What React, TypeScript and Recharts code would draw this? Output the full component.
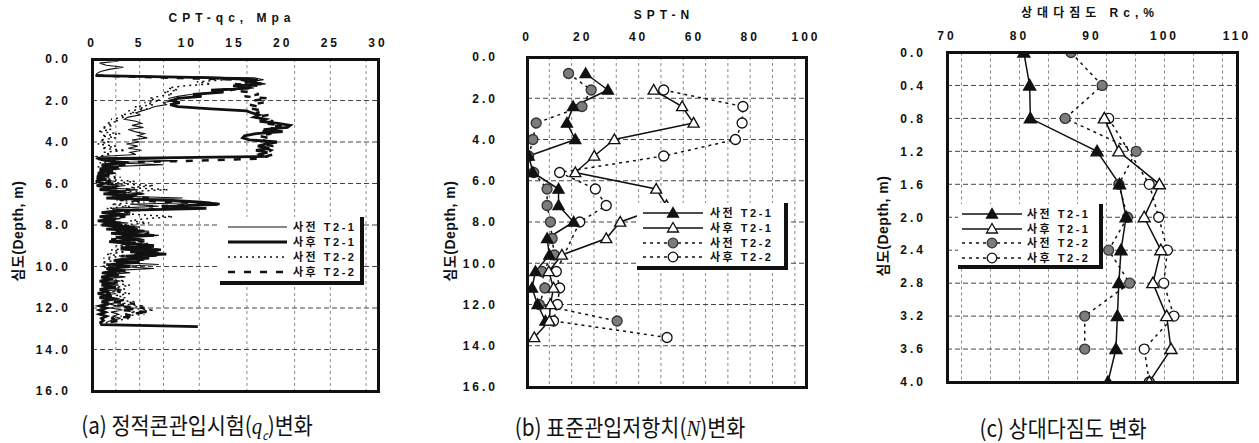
import type { ReactNode } from "react";
import { LineChart, Line, XAxis, YAxis, CartesianGrid } from "recharts";

const FONT = '"Liberation Sans", Arial, "Noto Sans CJK KR", sans-serif';
const KFONT = '"Noto Sans CJK KR", "Liberation Sans", sans-serif';
const INK = "#111";
const GRAY_DOT = "#7c7c7c";

// ---------- (a) CPT cone resistance, logged every 0.1 m ----------
const cptDepth = [
  0.0, 0.1, 0.2, 0.3, 0.4, 0.5, 0.6, 0.7, 0.8, 0.9,
  1.0, 1.1, 1.2, 1.3, 1.4, 1.5, 1.6, 1.7, 1.8, 1.9,
  2.0, 2.1, 2.2, 2.3, 2.4, 2.5, 2.6, 2.7, 2.8, 2.9,
  3.0, 3.1, 3.2, 3.3, 3.4, 3.5, 3.6, 3.7, 3.8, 3.9,
  4.0, 4.1, 4.2, 4.3, 4.4, 4.5, 4.6, 4.7, 4.8, 4.9,
  5.0, 5.1, 5.2, 5.3, 5.4, 5.5, 5.6, 5.7, 5.8, 5.9,
  6.0, 6.1, 6.2, 6.3, 6.4, 6.5, 6.6, 6.7, 6.8, 6.9,
  7.0, 7.1, 7.2, 7.3, 7.4, 7.5, 7.6, 7.7, 7.8, 7.9,
  8.0, 8.1, 8.2, 8.3, 8.4, 8.5, 8.6, 8.7, 8.8, 8.9,
  9.0, 9.1, 9.2, 9.3, 9.4, 9.5, 9.6, 9.7, 9.8, 9.9,
  10.0, 10.1, 10.2, 10.3, 10.4, 10.5, 10.6, 10.7, 10.8, 10.9,
  11.0, 11.1, 11.2, 11.3, 11.4, 11.5, 11.6, 11.7, 11.8, 11.9,
  12.0, 12.1, 12.2, 12.3, 12.4, 12.5, 12.6, 12.7, 12.8, 12.9,
];

const cptPreT21 = [
  0.4, 2.8, 0.8, 1.5, 3.3, 1.8, 0.9, 0.5, 0.4, 17.0,
  18.0, 16.5, 18.2, 15.5, 17.0, 14.0, 12.8, 10.5, 9.0, 8.0,
  8.8, 7.5, 7.8, 6.5, 6.0, 5.2, 4.6, 5.0, 3.8, 3.4,
  4.6, 5.2, 4.2, 5.4, 3.8, 4.5, 5.5, 4.8, 5.8, 4.2,
  5.0, 3.6, 4.8, 3.8, 5.2, 4.0, 4.6, 1.0, 0.4, 9.0,
  2.0, 7.5, 1.0, 3.0, 0.8, 2.5, 0.5, 1.8, 0.8, 2.5,
  1.0, 3.5, 1.5, 4.8, 2.0, 5.5, 2.5, 9.5, 5.0, 12.5,
  4.0, 7.0, 2.0, 3.5, 1.2, 4.0, 1.5, 3.0, 1.0, 3.8,
  2.0, 5.0, 2.5, 6.0, 3.0, 7.0, 3.5, 5.5, 2.5, 5.0,
  3.5, 6.5, 3.0, 7.0, 4.5, 6.8, 3.0, 5.5, 2.5, 7.0,
  3.0, 6.5, 2.0, 4.0, 1.5, 3.5, 1.2, 3.0, 1.0, 2.8,
  1.2, 3.0, 1.0, 2.5, 1.2, 2.2, 1.5, 3.0, 1.8, 2.6,
  2.0, 3.2, 2.0, 2.8, 2.2, 3.0, 2.0, 1.5, 1.6, 11.0,
];

const cptPostT21 = [
  null, null, null, null, null, null, null, null, 0.4, 12.0,
  17.4, 16.2, 17.8, 14.8, 16.5, 12.5, 13.8, 10.6, 11.5, 9.0,
  8.4, 9.2, 8.2, 9.0, 12.5, 16.2, 16.8, 17.5, 17.0, 18.2,
  17.6, 19.5, 20.8, 20.5, 18.0, 20.0, 17.2, 16.0, 15.8, 16.5,
  19.4, 18.2, 17.4, 18.6, 17.2, 18.4, 17.6, 18.0, 0.6, 1.5,
  3.5, 1.0, 2.8, 0.8, 2.2, 0.6, 1.8, 0.5, 1.5, 0.4,
  1.2, 0.5, 2.0, 0.8, 3.5, 1.2, 4.5, 1.5, 8.0, 11.5,
  13.2, 8.0, 12.0, 3.0, 1.0, 3.5, 0.8, 2.5, 0.6, 3.0,
  1.0, 4.5, 1.5, 5.5, 2.0, 6.5, 2.5, 5.0, 1.8, 4.0,
  6.5, 3.0, 7.0, 4.0, 7.8, 3.5, 6.0, 2.5, 5.0, 2.0,
  4.0, 1.5, 3.5, 1.2, 2.8, 1.0, 2.2, 0.8, 2.0, 1.0,
  2.5, 0.8, 1.8, 0.6, 1.5, 0.8, 2.0, 1.0, 1.8, 0.8,
  1.5, 0.8, 1.4, 0.8, 1.5, 1.0, 1.2, 0.9, 1.0, 11.1,
];

const cptPreT22 = [
  null, null, null, null, null, null, null, null, 0.5, 12.0,
  14.0, 11.0, 12.5, 9.5, 8.0, 9.0, 7.5, 8.5, 7.0, 6.0,
  7.2, 5.5, 6.5, 4.5, 5.8, 3.8, 4.5, 3.0, 3.5, 2.0,
  2.8, 1.5, 2.2, 1.0, 2.0, 0.6, 3.0, 1.0, 2.5, 0.8,
  1.8, 0.6, 2.5, 1.0, 3.5, 1.2, 2.0, 0.5, 1.0, 2.5,
  0.8, 2.0, 0.6, 1.8, 0.8, 2.5, 1.0, 3.0, 1.5, 4.5,
  2.0, 6.5, 4.0, 8.0, 3.0, 5.0, 2.0, 4.0, 2.5, 5.5,
  2.0, 4.0, 1.5, 3.0, 1.2, 5.0, 8.5, 5.5, 4.0, 6.0,
  3.0, 5.0, 2.5, 4.5, 2.0, 4.0, 2.5, 5.5, 3.0, 6.0,
  2.5, 4.5, 2.0, 3.5, 1.5, 3.0, 1.2, 2.5, 1.0, 2.2,
  1.0, 2.5, 1.5, 3.0, 1.5, 2.8, 1.2, 3.5, 2.0, 4.0,
  2.5, 3.5, 2.0, 4.0, 2.5, 3.5, 2.0, 4.5, 3.0, 5.5,
  3.5, 6.5, 4.0, 5.5, 3.0, 4.0, 2.5, 2.0, null, null,
];

const cptPostT22 = [
  null, null, null, null, null, null, null, null, 0.5, 8.0,
  15.5, 17.0, 15.0, 17.5, 16.0, 14.5, 16.5, 17.5, 16.0, 18.5,
  17.0, 18.0, 16.5, 17.5, 16.8, 18.0, 17.2, 18.5, 17.0, 18.2,
  19.0, 18.0, 20.0, 18.5, 19.5, 17.8, 18.8, 17.5, 18.5, 17.8,
  18.6, 18.0, 19.0, 18.2, 18.8, 18.4, 19.0, 18.2, 17.5, 11.0,
  2.0, 3.5, 1.0, 2.5, 0.8, 2.0, 0.6, 1.5, 0.5, 2.0,
  1.0, 3.0, 1.5, 4.0, 2.0, 5.5, 2.5, 6.0, 3.0, 9.0,
  13.7, 6.0, 9.5, 2.5, 4.0, 1.5, 3.5, 1.0, 2.5, 1.2,
  3.5, 1.8, 5.0, 2.5, 6.0, 3.0, 4.5, 2.0, 5.5, 3.0,
  6.0, 3.5, 7.5, 4.0, 6.5, 3.0, 5.5, 2.0, 4.5, 1.5,
  3.5, 1.2, 3.0, 1.0, 2.5, 0.8, 2.0, 1.0, 2.5, 1.2,
  2.0, 1.0, 3.0, 1.5, 2.5, 1.2, 3.5, 2.0, 4.5, 2.5,
  5.5, 3.0, 6.0, 3.5, 4.5, 2.0, 3.0, 1.5, null, null,
];

const qcTicks = [0, 5, 10, 15, 20, 25, 30];
const qcFine = [1.25, 2.5, 3.75, 5, 6.25, 7.5, 8.75, 10, 11.25, 12.5, 13.75, 15, 16.25, 17.5, 18.75, 20, 21.25, 22.5, 23.75, 25, 26.25, 27.5, 28.75];
const depthTicks = [0, 2, 4, 6, 8, 10, 12, 14, 16];

// ---------- (b) SPT N values ----------
const sptPreT21Depth = [0.8, 1.6, 2.4, 3.2, 4.0, 4.8, 5.6, 6.4, 7.2, 8.0, 8.8, 9.6, 10.4, 11.2, 12.0, 12.8];
const sptPreT21 = [21, 29, 16.5, 14.3, 17.3, 0.6, 2.1, 11.3, 11.3, 16.7, 7.2, 8.0, 3.0, 1.8, 3.8, 6.6];
const sptPostT21Depth = [1.6, 2.4, 3.2, 4.0, 4.8, 5.6, 6.4, 7.2, 8.0, 8.8, 9.6, 10.4, 11.2, 12.0, 12.8, 13.6];
const sptPostT21 = [45.4, 55.6, 59.7, 31.3, 24.1, 17.3, 46.3, 50, 33.4, 28.4, 12.5, 7.8, 9.5, 8.4, 8.0, 2.6];
const sptPreT22Depth = [0.8, 1.6, 2.4, 3.2, 4.0, 4.8, 5.6, 6.4, 7.2, 8.0, 8.8, 9.6, 10.4, 11.2, 12.0, 12.8];
const sptPreT22 = [14.9, 23.0, 19.7, 3.3, 2.1, 0.6, 2.4, 7.2, 7.2, 8.4, 9.0, 9.8, 5.4, 6.4, 4.4, 32.3];
const sptPostT22Depth = [1.6, 2.4, 3.2, 4.0, 4.8, 5.6, 6.4, 7.2, 8.0, 10.4, 11.2, 12.0, 12.8, 13.6];
const sptPostT22 = [49.0, 77.4, 77.1, 74.7, 49.0, 11.7, 24.5, 28.4, 18.9, 10.5, 11.7, 10.9, 9.5, 50.2];

const nTicks = [0, 20, 40, 60, 80, 100];
const nFine = [4, 8, 12, 16, 20, 24, 28, 32, 36, 40, 44, 48, 52, 56, 60, 64, 68, 72, 76, 80, 84, 88, 92, 96];

// ---------- (c) relative compaction ----------
const rcDepth = [0.0, 0.4, 0.8, 1.2, 1.6, 2.0, 2.4, 2.8, 3.2, 3.6, 4.0];
const rcPreT21 = [80.6, 81.4, 81.5, 90.7, 93.8, 94.7, 94.0, 93.7, 93.5, 93.3, 92.2];
const rcPostT21 = [null, null, 91.7, 93.7, 99.3, 97.2, 99.5, 98.4, 100.3, 100.9, 97.9];
const rcPreT22 = [87.1, 91.4, 86.3, 96.1, 93.7, 94.9, 92.3, 95.2, 89.0, 89.0, null];
const rcPostT22 = [null, null, 92.3, null, 97.9, 99.2, 100.4, 99.9, 101.3, 97.2, 97.9];

const rcTicks = [70, 80, 90, 100, 110];
const rcFine = [72, 74, 76, 78, 80, 82, 84, 86, 88, 90, 92, 94, 96, 98, 100, 102, 104, 106, 108];
const rcDepthTicks = [0, 0.4, 0.8, 1.2, 1.6, 2.0, 2.4, 2.8, 3.2, 3.6, 4.0];

const seriesNames = ["사전 T2-1", "사후 T2-1", "사전 T2-2", "사후 T2-2"];

type Row = Record<string, number | null>;

function toRows(depth: number[], cols: Record<string, (number | null)[]>): Row[] {
  return depth.map((d, i) => {
    const row: Row = { depth: d };
    for (const k of Object.keys(cols)) row[k] = cols[k][i] ?? null;
    return row;
  });
}

const cptRows = toRows(cptDepth, { preT21: cptPreT21, postT21: cptPostT21, preT22: cptPreT22, postT22: cptPostT22 });
const rcRows = toRows(rcDepth, { preT21: rcPreT21, postT21: rcPostT21, preT22: rcPreT22, postT22: rcPostT22 });
const sptPreT21Rows = toRows(sptPreT21Depth, { n: sptPreT21 });
const sptPostT21Rows = toRows(sptPostT21Depth, { n: sptPostT21 });
const sptPreT22Rows = toRows(sptPreT22Depth, { n: sptPreT22 });
const sptPostT22Rows = toRows(sptPostT22Depth, { n: sptPostT22 });

// plot rectangles in page pixels
const PA = { left: 92, top: 59, right: 378, bottom: 391 };
const PB = { left: 527, top: 57, right: 806, bottom: 387 };
const PC = { left: 947, top: 52.5, right: 1237, bottom: 382 };
const PAGE_W = 1259;
const PAGE_H = 443;
const Y_W = 60;
const X_H = 30;

const marginFor = (p: typeof PA) => ({
  left: p.left - Y_W,
  top: p.top - X_H,
  right: PAGE_W - p.right,
  bottom: PAGE_H - p.bottom,
});

const tickStyle = { fill: INK, fontSize: 12, fontWeight: 700, fontFamily: FONT, letterSpacing: 3 };

type DotProps = { cx?: number | null; cy?: number | null; index?: number; value?: unknown };

function triangleDot(filled: boolean, s: number) {
  return (p: DotProps) => {
    const key = `tri-${filled ? "f" : "o"}-${p.index}`;
    if (p.cx == null || p.cy == null || p.value == null) return <g key={key} />;
    const { cx, cy } = p;
    return (
      <polygon
        key={key}
        points={`${cx},${cy - s} ${cx - s},${cy + s * 0.75} ${cx + s},${cy + s * 0.75}`}
        fill={filled ? INK : "#fff"}
        stroke={INK}
        strokeWidth={1.4}
      />
    );
  };
}

function circleDot(filled: boolean, r: number) {
  return (p: DotProps) => {
    const key = `cir-${filled ? "f" : "o"}-${p.index}`;
    if (p.cx == null || p.cy == null || p.value == null) return <g key={key} />;
    return (
      <circle key={key} cx={p.cx} cy={p.cy} r={r} fill={filled ? GRAY_DOT : "#fff"} stroke={filled ? "#333" : INK} strokeWidth={1.3} />
    );
  };
}

function Frame({ p }: { p: typeof PA }) {
  return (
    <div
      style={{
        position: "absolute",
        left: p.left - 1.5,
        top: p.top - 1.5,
        width: p.right - p.left + 3,
        height: p.bottom - p.top + 3,
        border: `3px solid ${INK}`,
        boxSizing: "border-box",
      }}
    />
  );
}

function Label({ x, y, children, size = 12, spacing = 5, rotate = false, font = FONT, weight = 700 }: {
  x: number; y: number; children: ReactNode; size?: number; spacing?: number; rotate?: boolean; font?: string; weight?: number;
}) {
  return (
    <div
      style={{
        position: "absolute",
        left: x,
        top: y,
        transform: `translate(-50%, -50%)${rotate ? " rotate(-90deg)" : ""}`,
        whiteSpace: "nowrap",
        fontFamily: font,
        fontSize: size,
        fontWeight: weight,
        letterSpacing: spacing,
        color: INK,
        lineHeight: 1,
      }}
    >
      {children}
    </div>
  );
}

function Caption({ x, children }: { x: number; children: ReactNode }) {
  return (
    <div
      style={{
        position: "absolute",
        left: x,
        top: 427,
        transform: "translate(-50%, -50%) scaleX(0.9)",
        whiteSpace: "nowrap",
        fontFamily: KFONT,
        fontSize: 23,
        color: INK,
        lineHeight: 1,
      }}
    >
      {children}
    </div>
  );
}

type Sample = (w: number) => ReactNode;

function LegendBox({ left, top, width, height, rowY, sampleX, sampleW, textX, samples }: {
  left: number; top: number; width: number; height: number; rowY: number[]; sampleX: number; sampleW: number; textX: number; samples: Sample[];
}) {
  return (
    <div
      style={{
        position: "absolute",
        left,
        top,
        width,
        height,
        background: "#fff",
        borderRight: `4px solid ${INK}`,
        borderBottom: `4px solid ${INK}`,
        boxSizing: "border-box",
      }}
    >
      {seriesNames.map((name, i) => (
        <div key={name}>
          <svg
            width={sampleW}
            height={14}
            style={{ position: "absolute", left: sampleX, top: rowY[i] - 7, overflow: "visible" }}
          >
            {samples[i](sampleW)}
          </svg>
          <span
            style={{
              position: "absolute",
              left: textX,
              top: rowY[i] - 7,
              fontFamily: FONT,
              fontSize: 11,
              fontWeight: 700,
              letterSpacing: 2.5,
              lineHeight: "14px",
              color: INK,
              whiteSpace: "nowrap",
            }}
          >
            {name}
          </span>
        </div>
      ))}
    </div>
  );
}

const lineSample = (width: number, dash?: string) => (w: number) =>
  <line x1={0} y1={7} x2={w} y2={7} stroke={INK} strokeWidth={width} strokeDasharray={dash} />;

const markedSample = (dash: string | undefined, mark: (cx: number, cy: number) => ReactNode) => (w: number) => (
  <g>
    <line x1={0} y1={7} x2={w} y2={7} stroke={INK} strokeWidth={1.5} strokeDasharray={dash} />
    {mark(w / 2, 7)}
  </g>
);

const triMark = (filled: boolean) => (cx: number, cy: number) =>
  <polygon points={`${cx},${cy - 5.5} ${cx - 5.5},${cy + 4} ${cx + 5.5},${cy + 4}`} fill={filled ? INK : "#fff"} stroke={INK} strokeWidth={1.3} />;
const cirMark = (filled: boolean) => (cx: number, cy: number) =>
  <circle cx={cx} cy={cy} r={4.8} fill={filled ? GRAY_DOT : "#fff"} stroke={filled ? "#333" : INK} strokeWidth={1.3} />;

const DOTTED = "3 4";

const markedSamples: Sample[] = [
  markedSample(undefined, triMark(true)),
  markedSample(undefined, triMark(false)),
  markedSample(DOTTED, cirMark(true)),
  markedSample(DOTTED, cirMark(false)),
];

const gridProps = {
  fine: { stroke: "#8a8a8a", strokeDasharray: "3 3", strokeWidth: 1 },
  major: { stroke: "#444", strokeDasharray: "5 3", strokeWidth: 1 },
};

// depth runs downward: the vertical layout already puts the first value at the top
const depthAxis = {
  type: "number" as const,
  dataKey: "depth",
  interval: 0 as const,
  allowDataOverflow: true,
  width: Y_W,
  tickSize: 0,
  axisLine: false,
  tickLine: false,
  tick: tickStyle,
  tickFormatter: (v: number) => v.toFixed(1),
};

const valueAxis = {
  type: "number" as const,
  orientation: "top" as const,
  interval: 0 as const,
  allowDataOverflow: true,
  height: X_H,
  tickSize: 0,
  axisLine: false,
  tickLine: false,
  tick: tickStyle,
};

function CptChart() {
  return (
    <LineChart width={PAGE_W} height={PAGE_H} layout="vertical" data={cptRows} margin={marginFor(PA)}>
      <XAxis xAxisId="fine" type="number" domain={[0, 30]} ticks={qcFine} hide allowDataOverflow />
      <CartesianGrid xAxisId="fine" horizontal={false} {...gridProps.fine} />
      <CartesianGrid vertical={false} {...gridProps.major} />
      <XAxis {...valueAxis} domain={[0, 30]} ticks={qcTicks} tickMargin={12} />
      <YAxis {...depthAxis} domain={[0, 16]} ticks={depthTicks} tickMargin={21} />
      <Line dataKey="preT22" stroke={INK} strokeWidth={1.5} strokeDasharray="2 4" dot={false} activeDot={false} isAnimationActive={false} type="linear" />
      <Line dataKey="postT22" stroke={INK} strokeWidth={2.5} strokeDasharray="7 9" dot={false} activeDot={false} isAnimationActive={false} type="linear" />
      <Line dataKey="preT21" stroke={INK} strokeWidth={1.1} dot={false} activeDot={false} isAnimationActive={false} type="linear" />
      <Line dataKey="postT21" stroke={INK} strokeWidth={2.8} dot={false} activeDot={false} isAnimationActive={false} type="linear" />
    </LineChart>
  );
}

function SptChart() {
  return (
    <LineChart width={PAGE_W} height={PAGE_H} layout="vertical" margin={marginFor(PB)}>
      <XAxis xAxisId="fine" type="number" domain={[0, 100]} ticks={nFine} hide allowDataOverflow />
      <CartesianGrid xAxisId="fine" horizontal={false} {...gridProps.fine} />
      <CartesianGrid vertical={false} {...gridProps.major} />
      <XAxis {...valueAxis} dataKey="n" domain={[0, 100]} ticks={nTicks} tickMargin={16} />
      <YAxis {...depthAxis} domain={[0, 16]} ticks={depthTicks} tickMargin={29} />
      <Line data={sptPreT22Rows} dataKey="n" stroke={INK} strokeWidth={1.5} strokeDasharray={DOTTED} dot={circleDot(true, 5)} activeDot={false} isAnimationActive={false} />
      <Line data={sptPostT22Rows} dataKey="n" stroke={INK} strokeWidth={1.5} strokeDasharray={DOTTED} dot={circleDot(false, 5)} activeDot={false} isAnimationActive={false} />
      <Line data={sptPreT21Rows} dataKey="n" stroke={INK} strokeWidth={1.5} dot={triangleDot(true, 5.5)} activeDot={false} isAnimationActive={false} />
      <Line data={sptPostT21Rows} dataKey="n" stroke={INK} strokeWidth={1.5} dot={triangleDot(false, 5.5)} activeDot={false} isAnimationActive={false} />
    </LineChart>
  );
}

function RcChart() {
  return (
    <LineChart width={PAGE_W} height={PAGE_H} layout="vertical" data={rcRows} margin={marginFor(PC)}>
      <XAxis xAxisId="fine" type="number" domain={[70, 110]} ticks={rcFine} hide allowDataOverflow />
      <CartesianGrid xAxisId="fine" horizontal={false} {...gridProps.fine} />
      <CartesianGrid vertical={false} {...gridProps.major} />
      <XAxis {...valueAxis} domain={[70, 110]} ticks={rcTicks} tickMargin={13} />
      <YAxis {...depthAxis} domain={[0, 4]} ticks={rcDepthTicks} tickMargin={21} />
      <Line dataKey="preT22" stroke={INK} strokeWidth={1.5} strokeDasharray={DOTTED} dot={circleDot(true, 5)} activeDot={false} isAnimationActive={false} />
      <Line dataKey="postT22" connectNulls stroke={INK} strokeWidth={1.5} strokeDasharray={DOTTED} dot={circleDot(false, 5)} activeDot={false} isAnimationActive={false} />
      <Line dataKey="preT21" stroke={INK} strokeWidth={1.5} dot={triangleDot(true, 6)} activeDot={false} isAnimationActive={false} />
      <Line dataKey="postT21" connectNulls stroke={INK} strokeWidth={1.5} dot={triangleDot(false, 6)} activeDot={false} isAnimationActive={false} />
    </LineChart>
  );
}

const abs = { position: "absolute" as const, left: 0, top: 0 };

export default function App() {
  return (
    <div style={{ position: "absolute", left: 0, top: 0, width: PAGE_W, height: PAGE_H, background: "#fff", overflow: "hidden" }}>
      <div style={abs}><CptChart /></div>
      <div style={abs}><SptChart /></div>
      <div style={abs}><RcChart /></div>

      <Frame p={PA} />
      <Frame p={PB} />
      <Frame p={PC} />

      <LegendBox
        left={220}
        top={217}
        width={144}
        height={68}
        rowY={[10, 25, 40, 55]}
        sampleX={8}
        sampleW={59}
        textX={73}
        samples={[lineSample(1.2), lineSample(3.2), lineSample(1.6, "2 4"), lineSample(2.6, "7 9")]}
      />
      <LegendBox
        left={637}
        top={203}
        width={151}
        height={67}
        rowY={[10, 25, 40, 54]}
        sampleX={6}
        sampleW={60}
        textX={73}
        samples={markedSamples}
      />
      <LegendBox
        left={958}
        top={204}
        width={145}
        height={65}
        rowY={[10, 24.5, 39, 54]}
        sampleX={4}
        sampleW={60}
        textX={69}
        samples={markedSamples}
      />

      <Label x={232} y={18}>CPT-qc, Mpa</Label>
      <Label x={664} y={15}>SPT-N</Label>
      <Label x={1090} y={13}>상대다짐도 Rc,%</Label>

      <Label x={18} y={231} size={14} spacing={0.5} rotate>심도(Depth, m)</Label>
      <Label x={450} y={231} size={14} spacing={0.5} rotate>심도(Depth, m)</Label>
      <Label x={883} y={226} size={14} spacing={0.5} rotate>심도(Depth, m)</Label>

      <Caption x={197}>
        (a) 정적콘관입시험(<i style={{ fontFamily: "serif" }}>q</i><sub style={{ fontSize: 12 }}><i>c</i></sub>)변화
      </Caption>
      <Caption x={630}>
        (b) 표준관입저항치(<i style={{ fontFamily: "serif" }}>N</i>)변화
      </Caption>
      <Caption x={1063}>(c) 상대다짐도 변화</Caption>
    </div>
  );
}
